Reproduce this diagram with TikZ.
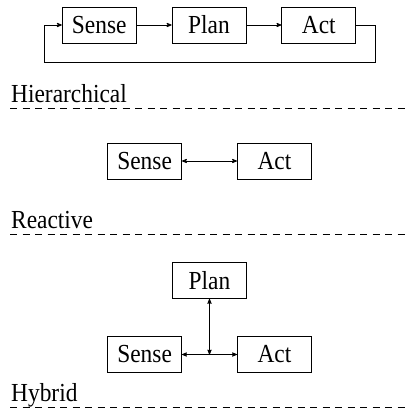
\documentclass[tikz,border=0pt]{standalone}
\usepackage{fontspec}
\setmainfont[FakeStretch=0.9]{Liberation Serif}
\usepackage{tikz}
\usetikzlibrary{arrows,positioning}

\begin{document}
\begin{tikzpicture}[
  x=1pt,y=-1pt,
  font=\fontsize{26}{30}\selectfont,
  every matrix/.style={ampersand replacement=\&,inner sep=0pt,row sep=0pt},
  block/.style={draw,line width=0.8pt,minimum width=74pt,minimum height=36pt,inner sep=0pt},
  to/.style={->,>=stealth',line width=0.8pt},
  tofrom/.style={<->,>=stealth',line width=0.8pt},
  title/.style={anchor=base west,inner sep=0pt},
  sep/.style={dash pattern=on 7pt off 5.5pt,line width=0.8pt}]

  \useasboundingbox (0,0) rectangle (408,412);

  % Hierarchical: sense -> plan -> act, looped back
  \matrix (hier) [column sep=35pt] at (209,25) {
    \node[block] (sense1) {Sense};
      \& \node[block] (plan1) {Plan};
      \& \node[block] (act1) {Act};\\
  };
  \draw[to] (sense1) -- (plan1);
  \draw[to] (plan1) -- (act1);
  \draw[to] (act1.east) -| ++(19,37) -| ([xshift=-17pt]sense1.west) -- (sense1.west);
  \node[title] (hiertxt) at (11,102) {Hierarchical};
  \draw[sep] (10,108) -- (408,108);

  % Reactive: sense <-> act
  \matrix (reac) [column sep=55pt] at (209.5,161) {
    \node[block] (sense2) {Sense};
      \& \node[block] (act2) {Act};\\
  };
  \draw[tofrom] (sense2) -- (act2);
  \node[title] (reactxt) at (11,228) {Reactive};
  \draw[sep] (10,234) -- (408,234);

  % Hybrid: plan over the sense/act link
  \matrix (hyb) [column sep=55pt] at (209.5,354.5) {
    \node[block] (sense3) {Sense};
      \& \node[block] (act3) {Act};\\
  };
  \node[block,above=37pt of hyb] (plan3) {Plan};
  \coordinate (hj) at (plan3 |- sense3);
  \draw[tofrom] (sense3) -- (act3);
  \draw[tofrom] (plan3) -- (hj);
  \node[title] (hybtxt) at (11,401) {Hybrid};
  \draw[sep] (10,407.5) -- (408,407.5);
\end{tikzpicture}
\end{document}
